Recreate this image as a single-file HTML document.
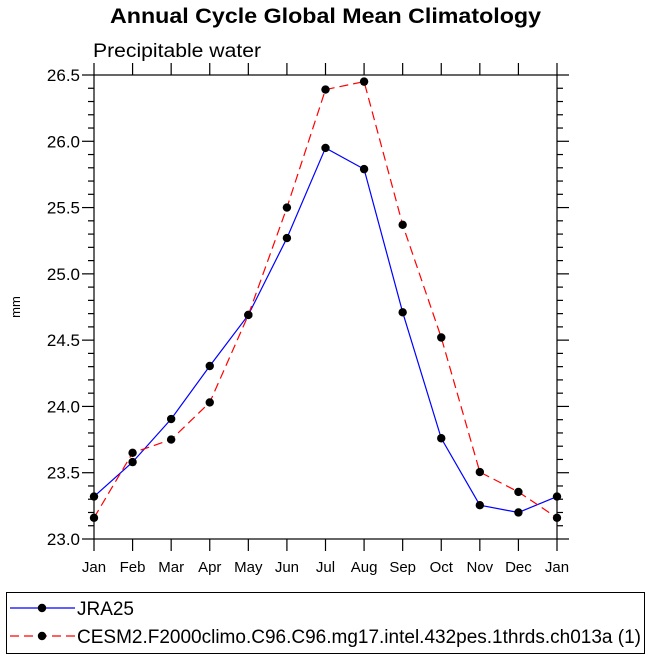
<!DOCTYPE html>
<html><head><meta charset="utf-8"><style>
body{margin:0;background:#fff;}
svg{display:block;font-family:"Liberation Sans",Arial,sans-serif;}
</style></head><body>
<svg id="chart" width="650" height="660" viewBox="0 0 650 660" xmlns="http://www.w3.org/2000/svg">
<text x="110" y="23" font-size="21" font-weight="bold" textLength="431" lengthAdjust="spacingAndGlyphs">Annual Cycle Global Mean Climatology</text>
<text x="93" y="57" font-size="19" textLength="168" lengthAdjust="spacingAndGlyphs">Precipitable water</text>
<text transform="translate(20,307) rotate(-90)" text-anchor="middle" font-size="13">mm</text>
<g id="axes"></g>
<g id="series"></g>
<g>
<rect x="6.5" y="592.5" width="638" height="61" fill="none" stroke="#000" stroke-width="1"/>
<line x1="10" y1="608" x2="75" y2="608" stroke="#0000ff" stroke-width="1.2"/>
<circle cx="42" cy="608" r="4.2" fill="#000"/>
<text x="77" y="615" font-size="19" textLength="57" lengthAdjust="spacingAndGlyphs">JRA25</text>
<line x1="10" y1="636" x2="75" y2="636" stroke="#ff0000" stroke-width="1.2" stroke-dasharray="9,5"/>
<circle cx="42" cy="636" r="4.2" fill="#000"/>
<text x="77" y="643" font-size="19" textLength="564" lengthAdjust="spacingAndGlyphs">CESM2.F2000climo.C96.C96.mg17.intel.432pes.1thrds.ch013a (1)</text>
</g>
</svg>
<script>
const months = ["Jan","Feb","Mar","Apr","May","Jun","Jul","Aug","Sep","Oct","Nov","Dec","Jan"];
const jra25 = [23.32,23.58,23.905,24.305,24.69,25.27,25.95,25.79,24.71,23.76,23.255,23.20,23.32];
const cesm2 = [23.16,23.65,23.75,24.03,24.69,25.50,26.39,26.45,25.37,24.52,23.505,23.355,23.16];
const yTicks = [23.0,23.5,24.0,24.5,25.0,25.5,26.0,26.5];
const yMin=23.0, yMax=26.5;
const X0=94, X1=557, Y0=539, Y1=75;
const NS="http://www.w3.org/2000/svg";
function xs(i){return X0+(X1-X0)*i/(months.length-1);}
function ys(v){return Y0-(v-yMin)/(yMax-yMin)*(Y0-Y1);}
function mk(tag,attrs,parent){const e=document.createElementNS(NS,tag);for(const k in attrs)e.setAttribute(k,attrs[k]);parent.appendChild(e);return e;}
const axes=document.getElementById('axes');
const frame=mk('rect',{x:X0,y:Y1,width:X1-X0,height:Y0-Y1,fill:'none',stroke:'#000','stroke-width':1.2},axes);


months.forEach((m,i)=>{
  const x=xs(i);
  mk('line',{x1:x,y1:Y0,x2:x,y2:Y0+12,stroke:'#000','stroke-width':1.2},axes);
  mk('line',{x1:x,y1:Y1,x2:x,y2:Y1-12,stroke:'#000','stroke-width':1.2},axes);
  const t=mk('text',{x:x,y:Y0+33,'text-anchor':'middle','font-size':15},axes);
  t.textContent=m;
  
  
});
for(let v=yMin; v<=yMax+1e-6; v+=0.1){
  const y=ys(v);
  const major=Math.abs(v*2-Math.round(v*2))<1e-6;
  const L=major?12:6;
  mk('line',{x1:X0,y1:y,x2:X0-L,y2:y,stroke:'#000','stroke-width':1.2},axes);
  mk('line',{x1:X1,y1:y,x2:X1+L,y2:y,stroke:'#000','stroke-width':1.2},axes);
}
yTicks.forEach(v=>{
  const t=mk('text',{x:X0-14,y:ys(v)+6,'text-anchor':'end','font-size':17},axes);
  t.textContent=v.toFixed(1);
  
  
});
const ser=document.getElementById('series');
function draw(data,color,dash,name){
  const pts=data.map((v,i)=>xs(i)+','+ys(v)).join(' ');
  const pl=mk('polyline',{points:pts,fill:'none',stroke:color,'stroke-width':1.2,'stroke-dasharray':dash},ser);
  
  
  data.forEach((v,i)=>{
    const c=mk('circle',{cx:xs(i),cy:ys(v),r:4.2,fill:'#000'},ser);
    
    
  });
}
draw(jra25,'#0000ff','none','jra25');
draw(cesm2,'#ff0000','9,5','cesm2');
</script>
</body></html>
